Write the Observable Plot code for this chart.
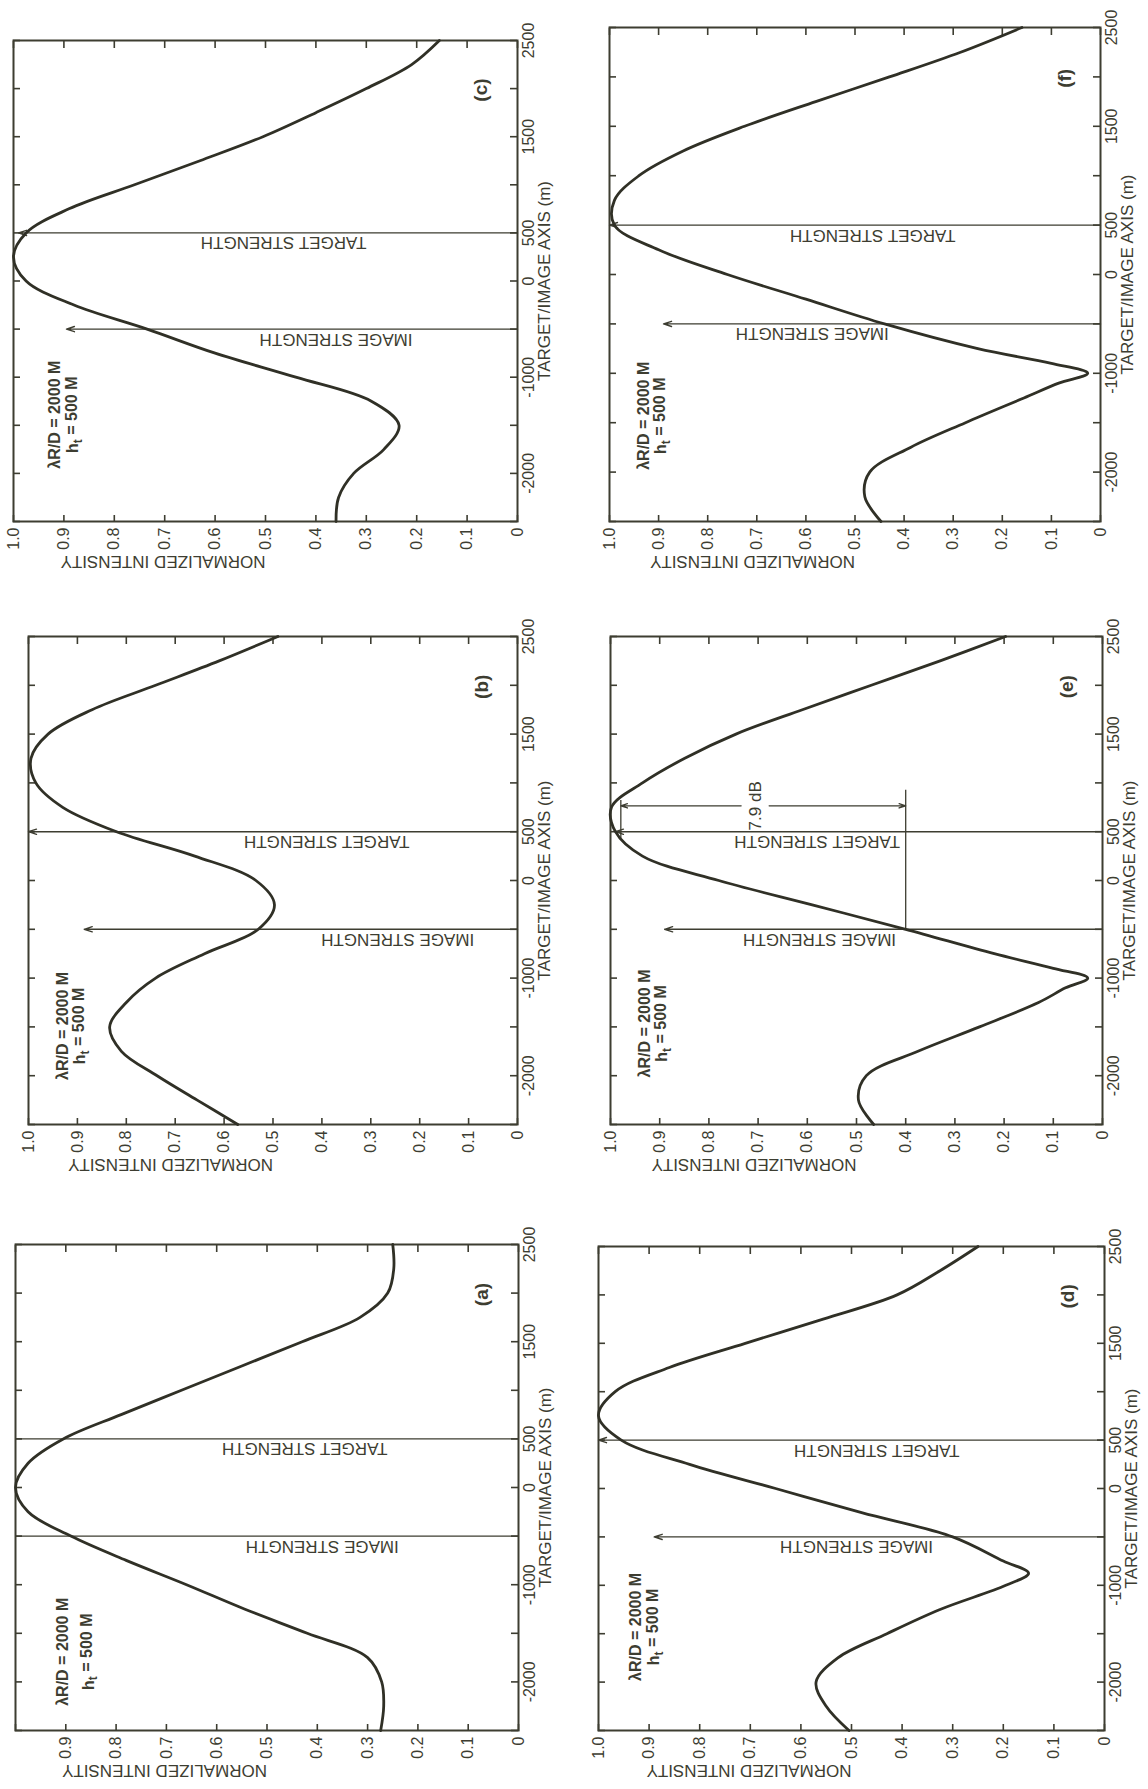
<!DOCTYPE html>
<html>
<head>
<meta charset="utf-8">
<script src="https://cdn.jsdelivr.net/npm/d3@7"></script>
<script src="https://cdn.jsdelivr.net/npm/@observablehq/plot@0.6"></script>
<style>
  html, body { margin: 0; padding: 0; background: #ffffff; width: 1148px; height: 1789px; overflow: hidden; }
  #page { position: absolute; left: 0; top: 0; width: 1789px; height: 1148px;
          transform-origin: 0 0; transform: translate(0px, 1789px) rotate(-90deg); background: #ffffff; }
  #page svg { position: absolute; overflow: visible; }
</style>
</head>
<body>
<div id="page"></div>
<script>
// ---------------- data ----------------
const panelIds = ["a", "b", "c", "d", "e", "f"];
const xTickValues = [-2500, -2000, -1500, -1000, -500, 0, 500, 1000, 1500, 2000, 2500];
const xTickLabels = [-2000, -1000, 0, 500, 1500, 2500];
const yTickValues = [0, 0.1, 0.2, 0.3, 0.4, 0.5, 0.6, 0.7, 0.8, 0.9, 1.0];
const yTickLabelsFull = [0, 0.1, 0.2, 0.3, 0.4, 0.5, 0.6, 0.7, 0.8, 0.9, 1.0];
const yTickLabelsNoTop = [0, 0.1, 0.2, 0.3, 0.4, 0.5, 0.6, 0.7, 0.8, 0.9];

const xTitle = "TARGET/IMAGE AXIS (m)";
const yTitle = "NORMALIZED INTENSITY";
const paramLine1 = "λR/D = 2000 M";
const paramLine2 = "h_t = 500 M";
const targetText = "TARGET STRENGTH";
const imageText = "IMAGE STRENGTH";

// target/image axis positions (m)
const targetPosition = 500;
const imagePosition = -500;

// curve samples (target/image axis in m, normalized intensity)
const gridA = [-2500,-2250,-2000,-1750,-1500,-1250,-1000,-750,-500,-250,0,250,500,750,1000,1250,1500,1750,2000,2250,2500];
const intensityA = [0.274,0.268,0.272,0.30,0.42,0.545,0.66,0.78,0.89,0.975,1.0,0.975,0.905,0.79,0.67,0.55,0.43,0.315,0.26,0.248,0.25];

const gridB = [-2500,-2250,-2000,-1750,-1500,-1250,-1000,-750,-500,-250,0,250,500,750,1000,1250,1500,1750,2000,2250,2500];
const intensityB = [0.572,0.655,0.737,0.81,0.834,0.80,0.74,0.64,0.53,0.497,0.535,0.66,0.82,0.93,0.985,0.995,0.96,0.87,0.74,0.61,0.49];

const gridC = [-2500,-2250,-2000,-1750,-1500,-1250,-1000,-750,-500,-250,0,250,500,750,1000,1250,1500,1750,2000,2250,2500];
const intensityC = [0.36,0.355,0.325,0.265,0.235,0.29,0.44,0.60,0.735,0.88,0.975,1.0,0.975,0.89,0.76,0.63,0.505,0.40,0.30,0.21,0.155];

const gridD = [-2500,-2250,-2000,-1750,-1500,-1250,-1000,-875,-750,-500,-250,0,250,500,750,1000,1250,1500,1750,2000,2250,2500];
const intensityD = [0.505,0.55,0.57,0.527,0.43,0.325,0.195,0.15,0.2,0.30,0.48,0.65,0.82,0.955,1.0,0.967,0.86,0.71,0.556,0.41,0.325,0.25];

const gridE = [-2500,-2250,-2000,-1750,-1500,-1250,-1100,-1000,-900,-750,-500,-250,0,250,500,750,1000,1250,1500,1750,2000,2250,2500];
const intensityE = [0.465,0.496,0.48,0.375,0.25,0.13,0.075,0.03,0.10,0.22,0.40,0.59,0.78,0.935,0.99,0.998,0.935,0.85,0.745,0.61,0.47,0.33,0.197];

const gridF = [-2500,-2250,-2000,-1750,-1500,-1250,-1100,-1000,-900,-750,-500,-250,0,250,500,750,1000,1250,1500,1750,2000,2250,2500];
const intensityF = [0.447,0.48,0.47,0.387,0.275,0.156,0.085,0.026,0.10,0.25,0.44,0.60,0.76,0.90,0.99,0.99,0.94,0.85,0.725,0.58,0.43,0.285,0.16];

const grids = [gridA, gridB, gridC, gridD, gridE, gridF];
const intensities = [intensityA, intensityB, intensityC, intensityD, intensityE, intensityF];

// arrow tops (normalized intensity) for target and image lines
const targetTops = [1.0, 1.0, 0.99, 1.0, 0.99, 1.0];
const imageTops = [1.0, 0.886, 0.895, 0.89, 0.89, 0.89];
const arrowHeads = [false, true, true, true, true, true];

// panel (e) 7.9 dB annotation
const dbText = "7.9 dB";
const dbLevels = [0.979, 0.40];

// ---------------- layout / style ----------------
const INK = "#3d3d31";
const CURVE = "#303026";
const FONT = '"Liberation Sans", Arial, Helvetica, sans-serif';
const NUMFONT = '"Liberation Sans Narrow", "Arial Narrow", "Liberation Sans", sans-serif';

// frame rectangles in the unrotated page [left, right, top, bottom]
const frames = {
  a: [58, 544, 15, 518],
  b: [664, 1152, 28, 517],
  c: [1267, 1748, 13, 517],
  d: [58, 542, 598, 1104],
  e: [664, 1152, 610, 1102],
  f: [1267, 1761, 609, 1100]
};
const labelLayout = {
  a: {tLab: 0.425, iLab: 0.39, pX: -1690, p1: 0.905, p2: 0.855},
  b: {tLab: 0.39,  iLab: 0.245, pX: -1490, p1: 0.93, p2: 0.895},
  c: {tLab: 0.464, iLab: 0.36, pX: -1390, p1: 0.918, p2: 0.882},
  d: {tLab: 0.45,  iLab: 0.49, pX: -1430, p1: 0.926, p2: 0.89},
  e: {tLab: 0.58,  iLab: 0.575, pX: -1465, p1: 0.93, p2: 0.895},
  f: {tLab: 0.464, iLab: 0.587, pX: -1430, p1: 0.93, p2: 0.895}
};

const fmtX = d => (d < 0 ? "-" + Math.abs(d) : String(d));
const fmtY = d => (d === 0 ? "0" : d.toFixed(1));

const page = document.getElementById("page");

panelIds.forEach((id, i) => {
  const [x0, x1, y0, y1] = frames[id];
  const fw = x1 - x0, fh = y1 - y0;
  const ml = 90, mr = 30, mt = 30, mb = 70;
  const L = labelLayout[id];
  const curveData = grids[i].map((x, k) => ({x, v: intensities[i][k]}));
  const tickLen = 7;

  const marks = [
    Plot.frame({stroke: INK, strokeWidth: 2}),
    Plot.tickX(xTickValues, {x: d => d, insetTop: fh - tickLen, stroke: INK, strokeWidth: 1.6}),
    Plot.tickX(xTickValues, {x: d => d, insetBottom: fh - tickLen, stroke: INK, strokeWidth: 1.6}),
    Plot.tickY(yTickValues, {y: d => d, insetRight: fw - tickLen, stroke: INK, strokeWidth: 1.6}),
    Plot.tickY(yTickValues, {y: d => d, insetLeft: fw - tickLen, stroke: INK, strokeWidth: 1.6}),
    Plot.axisX({ticks: xTickLabels, tickSize: 0, tickPadding: 5, tickFormat: fmtX, fontSize: 16, fontFamily: NUMFONT, fill: INK, label: null}),
    Plot.axisY({ticks: id === "a" ? yTickLabelsNoTop : yTickLabelsFull, tickSize: 0, tickPadding: 6, tickFormat: fmtY, fontSize: 16, fontFamily: NUMFONT, fill: INK, label: null}),
    Plot.text([xTitle], {text: d => d, frameAnchor: "bottom", dy: 32, fontSize: 17, fontFamily: FONT, fill: INK}),
    Plot.text([yTitle], {text: d => d, frameAnchor: "left", dx: -40, rotate: -90, fontSize: 17, fontFamily: FONT, fill: INK}),
    Plot.text(["(" + id + ")"], {text: d => d, x: () => 1985, y: () => 0.072, fontSize: 19, fontWeight: "bold", fontFamily: FONT, fill: INK}),
    Plot.text([{x: L.pX, y: L.p1, t: paramLine1}, {x: L.pX, y: L.p2, t: paramLine2}],
      {x: "x", y: "y", text: "t", fontSize: 16, fontWeight: "bold", fontFamily: FONT, fill: INK}),
    Plot.text([{x: targetPosition, y: L.tLab, t: targetText}], {x: "x", y: "y", text: "t", rotate: -90, dx: -10, fontSize: 17, fontFamily: FONT, fill: INK}),
    Plot.text([{x: imagePosition, y: L.iLab, t: imageText}], {x: "x", y: "y", text: "t", rotate: -90, dx: -10, fontSize: 17, fontFamily: FONT, fill: INK})
  ];

  const lines = [
    {x: targetPosition, y1: 0, y2: targetTops[i]},
    {x: imagePosition, y1: 0, y2: imageTops[i]}
  ];
  if (arrowHeads[i]) {
    marks.push(Plot.arrow(lines, {x1: "x", x2: "x", y1: "y1", y2: "y2", headLength: 9, headAngle: 36, stroke: INK, strokeWidth: 1.4}));
  } else {
    marks.push(Plot.ruleX(lines, {x: "x", y1: "y1", y2: "y2", stroke: INK, strokeWidth: 1.4}));
  }

  if (id === "e") {
    const mid = 0.706;
    const ax = 765;
    marks.push(
      Plot.ruleY([dbLevels[0]], {y: d => d, x1: () => targetPosition - 60, x2: () => 830, stroke: INK, strokeWidth: 1.3}),
      Plot.ruleY([dbLevels[1]], {y: d => d, x1: () => imagePosition, x2: () => 935, stroke: INK, strokeWidth: 1.3}),
      Plot.arrow([{y1: mid, y2: dbLevels[0]}, {y1: mid, y2: dbLevels[1]}],
        {x1: () => ax, x2: () => ax, y1: "y1", y2: "y2", insetStart: 14, headLength: 8, headAngle: 36, stroke: INK, strokeWidth: 1.3}),
      Plot.text([dbText], {text: d => d, x: () => ax, y: () => mid, fontSize: 17, fontFamily: FONT, fill: INK})
    );
  }

  marks.push(Plot.line(curveData, {x: "x", y: "v", curve: "catmull-rom", stroke: CURVE, strokeWidth: 2.8}));

  const svg = Plot.plot({
    width: fw + ml + mr,
    height: fh + mt + mb,
    marginLeft: ml, marginRight: mr, marginTop: mt, marginBottom: mb,
    x: {domain: [-2500, 2500]},
    y: {domain: [0, 1]},
    style: {background: "transparent", color: INK, fontFamily: FONT, overflow: "visible"},
    marks
  });
  svg.style.left = (x0 - ml) + "px";
  svg.style.top = (y0 - mt) + "px";

  // subscript t in the height label
  d3.select(svg).selectAll("text").each(function () {
    if (this.textContent === paramLine2) {
      const el = d3.select(this);
      el.text(null);
      el.append("tspan").text("h");
      el.append("tspan").attr("dy", "0.3em").attr("font-size", "12px").text("t");
      el.append("tspan").attr("dy", "-0.3em").text(" = 500 M");
    }
  });

  page.appendChild(svg);
});
</script>
</body>
</html>
